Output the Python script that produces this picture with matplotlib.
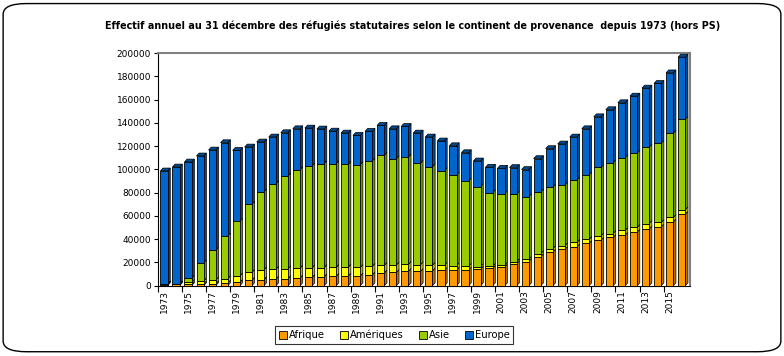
import matplotlib
matplotlib.use("Agg")
import matplotlib.pyplot as plt
from matplotlib.patches import FancyBboxPatch, Polygon
import numpy as np

years = list(range(1973, 2017))
afrique = [1000, 1100, 1200, 1500, 1700, 2300, 2900, 4700, 5200, 5700, 6100, 6600, 7100, 7600, 8000, 8200,
           8300, 9300, 11000, 11400, 12400, 12300, 12800, 13200, 13500, 13500, 14300, 14900, 16100, 18900,
           20800, 25000, 28900, 31200, 33500, 36300, 39200, 41500, 43500, 46100, 48900, 50600, 54900, 61500]
ameriques = [200, 300, 1800, 2500, 3100, 3700, 5400, 6700, 8500, 8500, 8500, 8400, 8200, 8000, 7700, 7700,
             7400, 7300, 6500, 6400, 5900, 5700, 4800, 4400, 3800, 3200, 2100, 1800, 1700, 1800,
             1900, 2600, 2900, 3100, 3700, 3500, 3700, 3400, 4000, 4000, 4600, 3800, 3800, 4000]
asie = [300, 400, 3300, 15700, 25800, 36900, 47200, 58700, 67000, 73600, 79800, 84900, 87700, 89400, 89300, 88500,
        88400, 90700, 94700, 91500, 92400, 87300, 84800, 81400, 78000, 73400, 68900, 63400, 61500, 58300,
        54000, 53100, 53200, 52400, 53800, 55800, 59000, 61000, 62700, 64100, 65800, 68300, 72600, 77900]
europe = [97200, 100300, 100100, 91900, 86100, 80100, 60900, 49200, 42900, 40100, 37200, 35100, 32600, 29800, 28000, 26900,
          25200, 25500, 25700, 25700, 26300, 26000, 25500, 25500, 25100, 24300, 22000, 21800, 21700, 22600,
          23200, 28600, 32900, 35200, 36900, 39400, 43400, 45500, 47200, 48900, 50700, 51300, 51800, 53200]
series_names = ["Afrique", "Amériques", "Asie", "Europe"]
front_colors = ["#FF9900", "#FFFF00", "#99CC00", "#0066CC"]
side_colors = ["#B86E00", "#B8B800", "#6E9300", "#004A93"]
title = "Effectif annuel au 31 décembre des réfugiés statutaires selon le continent de provenance  depuis 1973 (hors PS)"

fig = plt.figure(figsize=(7.84, 3.56), dpi=100)
fig.patch.set_facecolor("white")
border = FancyBboxPatch((0.004, 0.012), 0.992, 0.978, boxstyle="round,pad=0,rounding_size=0.03",
                        transform=fig.transFigure, facecolor="none", edgecolor="black", lw=1.0, zorder=10)
fig.patches.append(border)

ax = fig.add_axes([0.2015, 0.1975, 0.678, 0.653])
ax.set_facecolor("white")

x = np.arange(len(years))
w = 0.30
dx = 0.22
dy = 2500
data = [afrique, ameriques, asie, europe]
bottom = np.zeros(len(years))
for k, vals in enumerate(data):
    vals = np.array(vals, dtype=float)
    top = bottom + vals
    for i in range(len(years)):
        b, t = bottom[i], top[i]
        ax.add_patch(Polygon([(x[i] + w, b), (x[i] + w + dx, b + dy), (x[i] + w + dx, t + dy), (x[i] + w, t)],
                             closed=True, facecolor=side_colors[k], edgecolor="black", lw=0.5, zorder=3))
        if k == len(data) - 1:
            ax.add_patch(Polygon([(x[i] - w, t), (x[i] - w + dx, t + dy), (x[i] + w + dx, t + dy), (x[i] + w, t)],
                                 closed=True, facecolor=side_colors[k], edgecolor="black", lw=0.5, zorder=3))
    ax.bar(x, vals, bottom=bottom, width=2 * w, color=front_colors[k], edgecolor="black", lw=0.6,
           label=series_names[k], zorder=4)
    bottom = top

ax.set_xlim(-0.42, len(years) - 0.35)
ax.set_ylim(0, 200000)
ax.set_yticks(np.arange(0, 200001, 20000))
ax.set_yticklabels([str(v) for v in range(0, 200001, 20000)], fontsize=6.5)
ax.set_xticks(x[::2] - 0.5)
ax.set_xticklabels([])
ax.set_xticks(x[::2], minor=True)
ax.set_xticklabels([str(y) for y in years[::2]], minor=True, rotation=90, fontsize=6.5)
ax.tick_params(axis="x", which="minor", length=0, pad=3)
ax.tick_params(axis="x", which="major", length=4, width=0.8)
ax.tick_params(axis="y", length=3, width=0.8, pad=2)
for s in ["top", "right"]:
    ax.spines[s].set_color("#808080")
    ax.spines[s].set_linewidth(1.5)
ax.spines["left"].set_linewidth(0.8)
ax.spines["bottom"].set_linewidth(0.8)

fig.text(0.526, 0.928, title, ha="center", va="center", fontsize=6.9, fontweight="bold")

leg = fig.legend(loc="center", bbox_to_anchor=(0.503, 0.059), ncol=4, fontsize=7.2, frameon=True,
                 fancybox=False, edgecolor="black", handlelength=0.8, handleheight=0.8,
                 handletextpad=0.2, columnspacing=1.5, borderpad=0.35)
leg.get_frame().set_linewidth(0.8)

fig.savefig("out.png", dpi=100)
